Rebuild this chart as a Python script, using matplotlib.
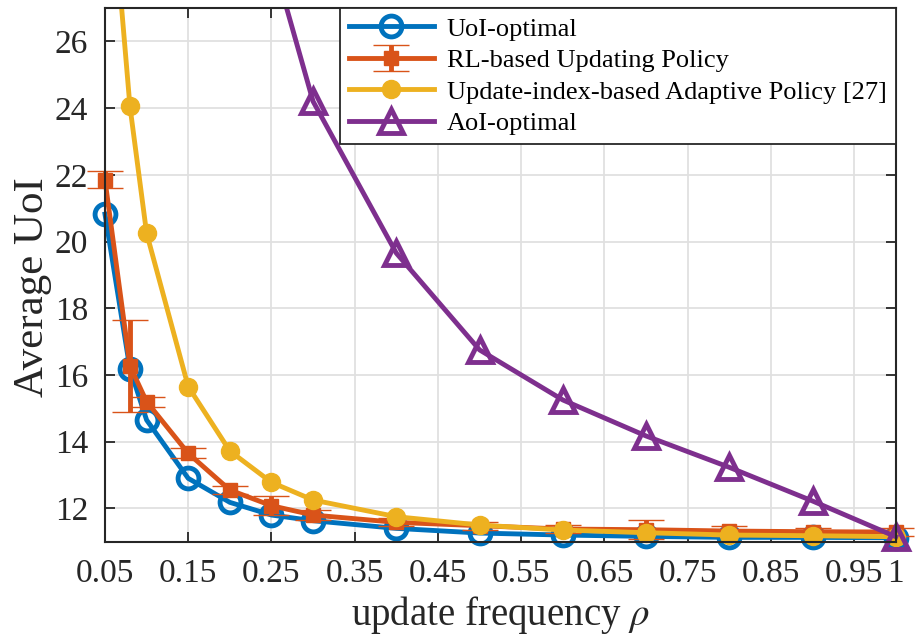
import matplotlib
matplotlib.use("Agg")
import matplotlib.pyplot as plt
from matplotlib.transforms import Bbox, TransformedBbox
import numpy as np

plt.rcParams['font.family'] = ['Liberation Serif', 'DejaVu Serif']
plt.rcParams['mathtext.fontset'] = 'stix'

# Data
rho = [0.05, 0.08, 0.1, 0.15, 0.2, 0.25, 0.3, 0.4, 0.5, 0.6, 0.7, 0.8, 0.9, 1.0]
uoi_optimal = [20.82, 16.18, 14.65, 12.9, 12.18, 11.8, 11.63, 11.4, 11.26, 11.2, 11.16, 11.13, 11.13, 11.12]
rl_policy = [21.85, 16.27, 15.2, 13.65, 12.55, 12.08, 11.8, 11.58, 11.48, 11.38, 11.36, 11.32, 11.3, 11.29]
rl_err = [0.25, 1.37, 0.15, 0.15, 0.12, 0.28, 0.15, 0.12, 0.12, 0.12, 0.28, 0.15, 0.12, 0.12]
update_index = [32.9, 24.05, 20.25, 15.65, 13.72, 12.78, 12.25, 11.75, 11.5, 11.35, 11.27, 11.2, 11.18, 11.15]
rho_aoi = [0.25, 0.3, 0.4, 0.5, 0.6, 0.7, 0.8, 0.9, 1.0]
aoi_optimal = [28.6, 24.2, 19.65, 16.75, 15.25, 14.17, 13.23, 12.22, 11.15]

xticks = [0.05, 0.15, 0.25, 0.35, 0.45, 0.55, 0.65, 0.75, 0.85, 0.95, 1.0]
xticklabels = ['0.05', '0.15', '0.25', '0.35', '0.45', '0.55', '0.65', '0.75', '0.85', '0.95', '1']
yticks = [12, 14, 16, 18, 20, 22, 24, 26]

c_blue = '#0072BD'
c_orange = '#D95319'
c_yellow = '#EDB120'
c_purple = '#7E2F8E'

fig = plt.figure(figsize=(9.16, 6.42), dpi=100)
ax = fig.add_axes([0.1146, 0.1562, 0.978 - 0.1146, 0.9875 - 0.1562])

h1, = ax.plot(rho, uoi_optimal, '-o', color=c_blue, lw=3.5, ms=15, mfc='none', mew=3.5,
              label='UoI-optimal', zorder=3)
h2 = ax.errorbar(rho, rl_policy, yerr=rl_err, fmt='-s', color=c_orange, lw=3.5, ms=10,
                 mew=1, capsize=13, capthick=3.5, elinewidth=3.5,
                 label='RL-based Updating Policy', zorder=4)
h3, = ax.plot(rho, update_index, '-o', color=c_yellow, lw=3.5, ms=13,
              label='Update-index-based Adaptive Policy [27]', zorder=5)
h4, = ax.plot(rho_aoi, aoi_optimal, '-^', color=c_purple, lw=3.5, ms=17, mfc='none', mew=3.5,
              label='AoI-optimal', zorder=6)

# clip only at the top of the axes; markers may overhang the other edges
clipbox = TransformedBbox(Bbox([[-0.06, -0.06], [1.06, 1.0]]), ax.transAxes)
arts = [h1, h3, h4, h2.lines[0]] + list(h2.lines[1]) + list(h2.lines[2])
for a in arts:
    a.set_clip_path(None)
    a.set_clip_box(clipbox)
    a.set_clip_on(True)

ax.set_xlim(0.05, 1.0)
ax.set_ylim(11, 27)
ax.set_xticks(xticks)
ax.set_xticklabels(xticklabels)
ax.set_yticks(yticks)
ax.tick_params(direction='in', length=7, width=1.3, labelsize=24, colors='#262626',
               top=True, right=True, pad=12)
ax.grid(True, color='#e0e0e0', lw=1.3)
ax.set_axisbelow(True)
for s in ax.spines.values():
    s.set_color('#262626')
    s.set_linewidth(1.5)
    s.set_zorder(7)

ax.set_xlabel('update frequency $\\rho$', fontsize=28, color='#262626', labelpad=4)
ax.set_ylabel('Average UoI', fontsize=31, color='#262626', labelpad=2)
ax.yaxis.label.set_y(0.477)

leg = ax.legend([h1, h2, h3, h4],
                ['UoI-optimal', 'RL-based Updating Policy',
                 'Update-index-based Adaptive Policy [27]', 'AoI-optimal'],
                loc='upper right', bbox_to_anchor=(1.0, 1.0), borderaxespad=0,
                fontsize=19, handlelength=3.2, frameon=True, fancybox=False,
                edgecolor='#262626', framealpha=1, labelspacing=0.3,
                borderpad=0.35, handletextpad=0.5)
leg.get_frame().set_linewidth(1.3)
leg.set_zorder(10)

fig.savefig('out.png', dpi=100)
